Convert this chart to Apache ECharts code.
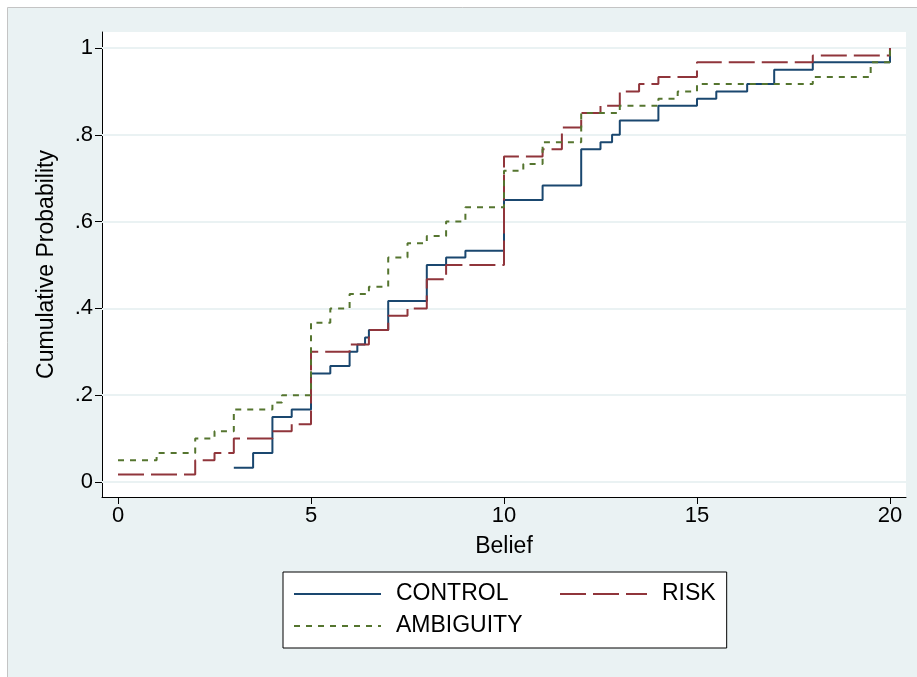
<!DOCTYPE html>
<html>
<head>
<meta charset="utf-8">
<script src="https://cdn.jsdelivr.net/npm/echarts@6/dist/echarts.min.js"></script>
<style>
  html, body { margin: 0; padding: 0; background: #fff; }
  #chart { width: 917px; height: 677px; }
</style>
</head>
<body>
<div id="chart"></div>
<script>
// belief values where each group's cumulative probability steps up
var controlX = [3, 3.5, 4, 4.5, 5, 5.5, 6, 6.2, 6.4, 6.5, 7, 8, 8.5, 9, 10, 11, 12, 12.5, 12.8, 13, 14, 15, 15.5, 16.3, 17, 18, 20];
var controlY = [0.033, 0.067, 0.15, 0.167, 0.25, 0.267, 0.3, 0.317, 0.333, 0.35, 0.417, 0.5, 0.517, 0.533, 0.65, 0.683, 0.767, 0.783, 0.8, 0.833, 0.867, 0.883, 0.9, 0.917, 0.95, 0.967, 1];

var riskX = [0, 2, 2.5, 3, 4, 4.5, 5, 6, 6.5, 7, 7.5, 8, 8.5, 10, 11, 11.5, 12, 12.5, 13, 13.5, 14, 15, 18, 20];
var riskY = [0.017, 0.05, 0.067, 0.1, 0.117, 0.133, 0.3, 0.317, 0.35, 0.383, 0.4, 0.467, 0.5, 0.75, 0.767, 0.817, 0.85, 0.867, 0.9, 0.917, 0.933, 0.967, 0.983, 1];

var ambiguityX = [0, 1, 2, 2.5, 3, 4, 4.25, 5, 5.5, 6, 6.5, 7, 7.5, 8, 8.5, 9, 10, 10.5, 11, 12, 13, 14, 14.5, 15, 18, 19.5, 20];
var ambiguityY = [0.05, 0.067, 0.1, 0.117, 0.167, 0.183, 0.2, 0.367, 0.4, 0.433, 0.45, 0.517, 0.55, 0.567, 0.6, 0.633, 0.717, 0.733, 0.783, 0.85, 0.867, 0.883, 0.9, 0.917, 0.933, 0.967, 1];

var xTicks = [0, 5, 10, 15, 20];
var yTicks = [0, 0.2, 0.4, 0.6, 0.8, 1];
var yTickLabels = ['0', '.2', '.4', '.6', '.8', '1'];

function zip(xs, ys) {
  var out = [];
  for (var i = 0; i < xs.length; i++) out.push([xs[i], ys[i]]);
  return out;
}

var FONT = 'Liberation Sans, Arial, sans-serif';
var chart = echarts.init(document.getElementById('chart'), null, { renderer: 'canvas' });

var option = {
  backgroundColor: '#fff',
  animation: false,
  textStyle: { fontFamily: FONT, color: '#000' },
  graphic: [{
    type: 'rect', z: -10, silent: true,
    shape: { x: 7.5, y: 7.5, width: 915, height: 675 },
    style: { fill: '#eaf2f3', stroke: '#c4c4c4', lineWidth: 1 }
  }],
  grid: {
    left: 102, right: 11, top: 32, bottom: 180,
    show: true, backgroundColor: '#fff', borderWidth: 0
  },
  legend: {
    left: 283, top: 572,
    width: 440,
    padding: [10, 11, 10, 10],
    borderColor: '#000', borderWidth: 1, backgroundColor: '#fff',
    itemWidth: 87, itemHeight: 14, itemGap: 8,
    itemStyle: { opacity: 0 },
    textStyle: { fontFamily: FONT, fontSize: 23, color: '#000', lineHeight: 24, padding: [0, 0, 0, 10] },
    data: [
      { name: 'CONTROL', textStyle: { width: 155 } },
      { name: 'RISK' },
      { name: 'AMBIGUITY' }
    ]
  },
  xAxis: {
    type: 'value',
    min: -0.415, max: 20.415,
    name: 'Belief', nameLocation: 'middle', nameGap: 38,
    nameTextStyle: { fontFamily: FONT, fontSize: 23, color: '#000' },
    axisLine: { show: true, onZero: false, lineStyle: { color: '#000', width: 1 } },
    axisTick: { show: true, length: 7, customValues: xTicks, lineStyle: { color: '#000' } },
    axisLabel: { customValues: xTicks, margin: 8, fontFamily: FONT, fontSize: 22, color: '#000' },
    splitLine: { show: false }
  },
  yAxis: {
    type: 'value',
    min: -0.0346, max: 1.0369,
    name: 'Cumulative Probability', nameLocation: 'middle', nameGap: 44,
    nameTextStyle: { fontFamily: FONT, fontSize: 23, color: '#000' },
    axisLine: { show: true, onZero: false, lineStyle: { color: '#000', width: 1 } },
    axisTick: { show: true, length: 7, customValues: yTicks, lineStyle: { color: '#000' } },
    axisLabel: {
      customValues: yTicks, margin: 9, fontFamily: FONT, fontSize: 22, color: '#000',
      formatter: function (v) {
        for (var i = 0; i < yTicks.length; i++) {
          if (Math.abs(yTicks[i] - v) < 1e-6) return yTickLabels[i];
        }
        return '';
      }
    },
    splitLine: { show: false }
  },
  series: [{
    name: 'grid',
    type: 'line',
    data: [],
    silent: true,
    z: 1,
    markLine: {
      z: 1,
      silent: true,
      symbol: 'none',
      label: { show: false },
      lineStyle: { color: '#eaf2f3', width: 2, type: 'solid' },
      data: yTicks.map(function (v) { return { yAxis: v }; })
    }
  }, {
    name: 'CONTROL',
    type: 'line',
    step: 'end',
    symbol: 'none',
    color: '#1a476f',
    lineStyle: { color: '#1a476f', width: 2 },
    data: zip(controlX, controlY)
  }, {
    name: 'RISK',
    type: 'line',
    step: 'end',
    symbol: 'none',
    color: '#90353b',
    lineStyle: { color: '#90353b', width: 2, type: [26, 7] },
    data: zip(riskX, riskY)
  }, {
    name: 'AMBIGUITY',
    type: 'line',
    step: 'end',
    symbol: 'none',
    color: '#55752f',
    lineStyle: { color: '#55752f', width: 2, type: [6, 6] },
    data: zip(ambiguityX, ambiguityY)
  }]
};

chart.setOption(option);
</script>
</body>
</html>
